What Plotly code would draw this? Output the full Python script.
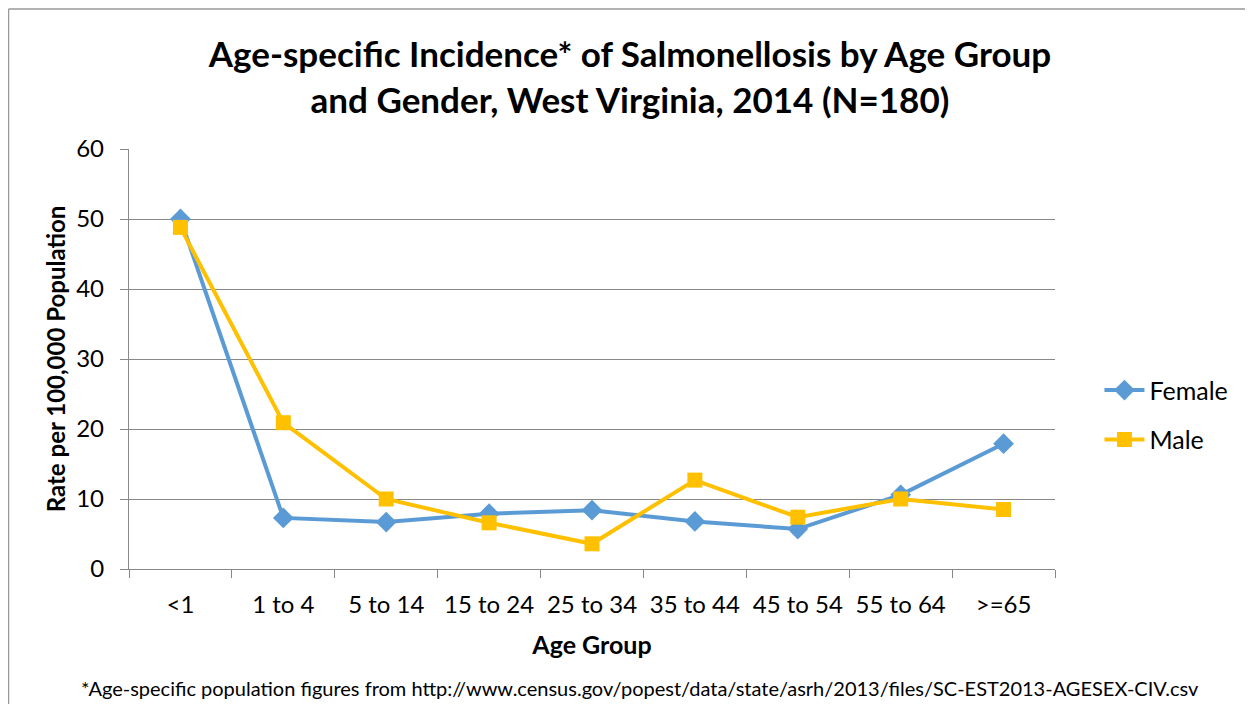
import plotly.graph_objects as go

age_groups = ["<1", "1 to 4", "5 to 14", "15 to 24", "25 to 34", "35 to 44", "45 to 54", "55 to 64", ">=65"]
female = [50.0, 7.3, 6.7, 7.9, 8.4, 6.8, 5.7, 10.6, 17.9]
male = [48.8, 20.9, 10.0, 6.6, 3.6, 12.7, 7.4, 10.0, 8.5]
y_ticks = [0, 10, 20, 30, 40, 50, 60]

FONT = "Lato"
GRID = "#888888"

fig = go.Figure()
fig.add_trace(go.Scatter(
    x=age_groups, y=female, name="Female", mode="lines+markers", legendgroup="f",
    line=dict(color="#5B9BD5", width=4),
    marker=dict(symbol="diamond", size=16, color="#5B9BD5"),
))
fig.add_trace(go.Scatter(
    x=age_groups, y=male, name="Male", mode="lines+markers", legendgroup="m",
    line=dict(color="#FFC000", width=4),
    marker=dict(symbol="square", size=15, color="#FFC000"),
))

fig.update_layout(
    width=1253, height=704,
    margin=dict(l=121, r=206, t=141, b=143),
    paper_bgcolor="white", plot_bgcolor="white",
    font=dict(family=FONT, color="black"),
    title=dict(
        text="Age-specific Incidence* of Salmonellosis by Age Group<br>and Gender, West Virginia, 2014 (N=180)",
        font=dict(family=FONT, size=35, color="black", weight="bold"),
        x=0.541, xref="paper", xanchor="center",
        y=0.916, yanchor="top",
    ),
    legend=dict(
        x=1.048, y=0.367, xanchor="left", yanchor="middle",
        font=dict(family=FONT, size=25, color="black"),
        tracegroupgap=14, itemwidth=40,
        bgcolor="rgba(0,0,0,0)",
    ),
    showlegend=True,
)

fig.update_xaxes(
    type="category", categoryorder="array", categoryarray=age_groups,
    showline=True, linecolor=GRID, linewidth=1.3,
    showgrid=False, tickson="boundaries",
    ticks="outside", ticklen=8, tickcolor=GRID, tickwidth=1.3,
    ticklabelstandoff=14,
    tickfont=dict(family=FONT, size=24, color="black"),
    title=dict(text="Age Group", font=dict(family=FONT, size=25, color="black", weight="bold"), standoff=19),
    range=[-0.5, 8.5],
)
fig.update_yaxes(
    range=[0, 60], tickvals=y_ticks,
    showline=True, linecolor=GRID, linewidth=1.3,
    showgrid=True, gridcolor=GRID, gridwidth=1.3,
    ticks="outside", ticklen=8, tickcolor=GRID, tickwidth=1.3,
    ticklabelstandoff=11,
    tickfont=dict(family=FONT, size=24, color="black"),
    zeroline=False,
    title=dict(text="Rate per 100,000 Population", font=dict(family=FONT, size=24, color="black", weight="bold"), standoff=3),
)

fig.add_annotation(
    text="*Age-specific population figures from http://www.census.gov/popest/data/state/asrh/2013/files/SC-EST2013-AGESEX-CIV.csv",
    xref="paper", yref="paper", x=0.552, y=-0.283,
    xanchor="center", yanchor="middle", showarrow=False,
    font=dict(family=FONT, size=20, color="black"),
)

# outer chart border (left and top edges visible)
fig.add_shape(type="line", xref="paper", yref="paper",
              x0=(0.5 - 121) / 926, x1=(0.5 - 121) / 926, y0=-0.5, y1=(561 - 1) / 420,
              line=dict(color="#999999", width=1.5))
fig.add_shape(type="line", xref="paper", yref="paper",
              x0=(0.5 - 121) / 926, x1=1.3, y0=(561 - 1) / 420, y1=(561 - 1) / 420,
              line=dict(color="#999999", width=1.5))

fig.write_html("out.html")
